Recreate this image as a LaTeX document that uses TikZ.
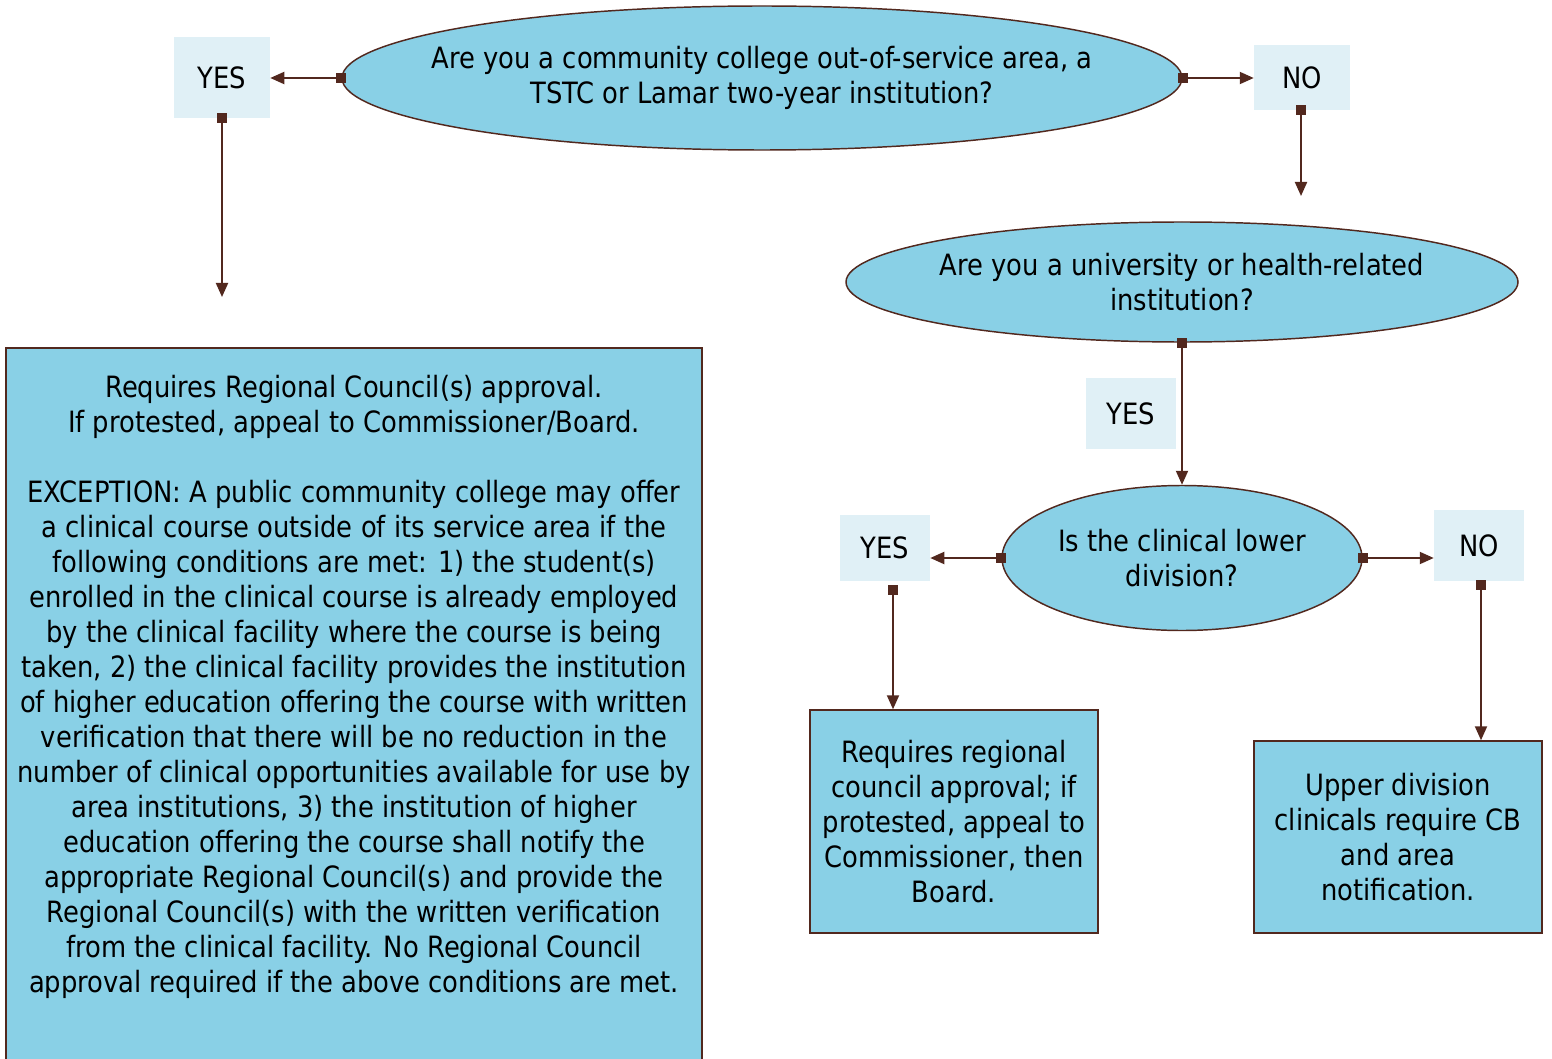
\documentclass[tikz,border=0pt]{standalone}
\usepackage{fontspec}
\setmainfont{DejaVu Sans}[FakeStretch=0.88]
\usetikzlibrary{shapes.geometric,arrows.meta}
\definecolor{ellfill}{RGB}{137,208,230}
\definecolor{brd}{RGB}{82,40,30}
\definecolor{lblfill}{RGB}{224,240,246}
\begin{document}
\begin{tikzpicture}[x=0.75pt,y=-0.75pt,
  txt/.style={font=\fontsize{22pt}{26.25pt}\selectfont, align=center, inner sep=0pt},
  ell/.style={ellipse, draw=brd, line width=1.1pt, fill=ellfill, inner sep=0pt},
  lbl/.style={rectangle, fill=lblfill, txt},
  box/.style={rectangle, draw=brd, line width=1.1pt, fill=ellfill, txt},
  conn/.style={draw=brd, line width=1.5pt, shorten <=-3.5pt, {Square[length=7.5pt,width=7.5pt]}-{Triangle[length=10.5pt,width=9pt]}}
]
\useasboundingbox (0,0) rectangle (1552,1059);

% ellipses
\node[ell, minimum width=840*0.75pt, minimum height=144*0.75pt] (e1) at (762,78) {};
\node[txt] (t1) at (e1.center)
  {Are you a community college out-of-service area, a\\TSTC or Lamar two-year institution?};
\node[ell, minimum width=672*0.75pt, minimum height=120*0.75pt] (e2) at (1182,282) {};
\node[txt] (t2) at (e2.center)
  {Are you a university or health-related\\institution?};
\node[ell, minimum width=360*0.75pt, minimum height=145*0.75pt] (e3) at (1182,558) {};
\node[txt] (t3) at (e3.center)
  {Is the clinical lower\\division?};

% labels
\node[lbl, minimum width=96*0.75pt, minimum height=81*0.75pt] (yes1) at (222,77.5) {YES};
\node[lbl, minimum width=96*0.75pt, minimum height=65*0.75pt] (no1) at (1302,77.5) {NO};
\node[lbl, minimum width=90*0.75pt, minimum height=71*0.75pt] (yes2) at (1131,413.5) {YES};
\node[lbl, minimum width=90*0.75pt, minimum height=66*0.75pt] (yes3) at (885,548) {YES};
\node[lbl, minimum width=90*0.75pt, minimum height=71*0.75pt] (no3) at (1479,545.5) {NO};

% boxes
\node[box, minimum width=696*0.75pt, minimum height=718*0.75pt] (bA) at (354,707) {};
\node[txt] (tA) at (354,687) {Requires Regional Council(s) approval.\\
If protested, appeal to Commissioner/Board.\\[26.25pt]
EXCEPTION: A public community college may offer\\
a clinical course outside of its service area if the\\
following conditions are met: 1) the student(s)\\
enrolled in the clinical course is already employed\\
by the clinical facility where the course is being\\
taken, 2) the clinical facility provides the institution\\
of higher education offering the course with written\\
verification that there will be no reduction in the\\
number of clinical opportunities available for use by\\
area institutions, 3) the institution of higher\\
education offering the course shall notify the\\
appropriate Regional Council(s) and provide the\\
Regional Council(s) with the written verification\\
from the clinical facility. No Regional Council\\
approval required if the above conditions are met.};
\node[box, minimum width=288*0.75pt, minimum height=223*0.75pt] (bB) at (954,821.5)
  {Requires regional\\council approval; if\\protested, appeal to\\Commissioner, then\\Board.};
\node[box, minimum width=288*0.75pt, minimum height=192*0.75pt] (bC) at (1398,837)
  {Upper division\\clinicals require CB\\and area\\notification.};

% free ends and start points
\coordinate (f1) at (222,297);
\coordinate (f2) at (1301,196);
\coordinate (s1) at (222,118);
\coordinate (s2) at (1301,110);
\coordinate (s3) at (893,590);
\coordinate (s4) at (1481,585);

% connectors
\draw[conn] (e1.west) -- (e1.west -| yes1.east);
\draw[conn] (e1.east) -- (e1.east -| no1.west);
\draw[conn] (s1) -- (f1);
\draw[conn] (s2) -- (f2);
\draw[conn] (e2.south) -- (e3.north);
\draw[conn] (e3.west) -- (e3.west -| yes3.east);
\draw[conn] (e3.east) -- (e3.east -| no3.west);
\draw[conn] (s3) -- (s3 |- bB.north);
\draw[conn] (s4) -- (s4 |- bC.north);
\end{tikzpicture}
\end{document}
